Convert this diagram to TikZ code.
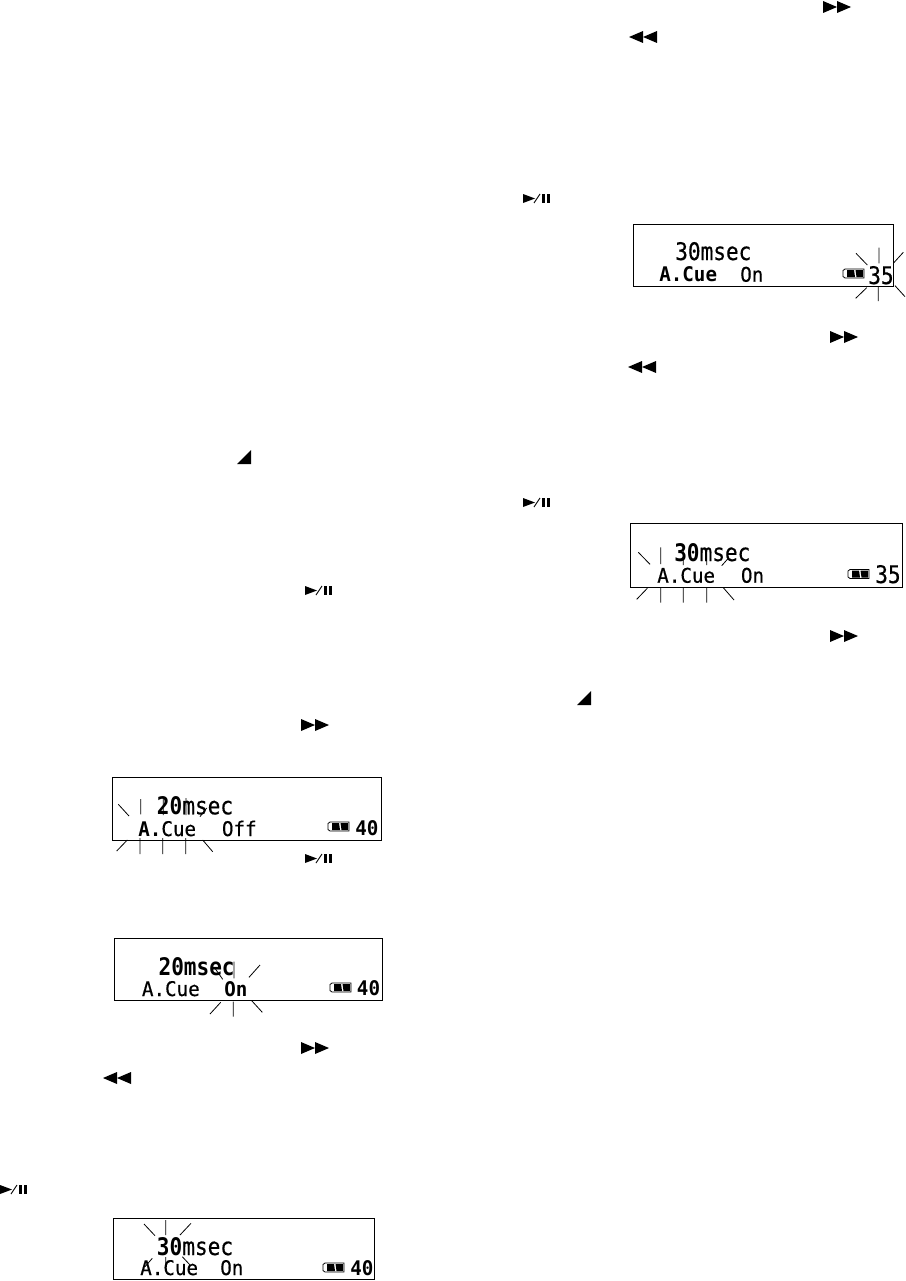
\documentclass[tikz,border=0pt]{standalone}
\usepackage{fontspec}
\setmonofont[FakeBold=0.5,BoldFeatures={FakeBold=0}]{DejaVu Sans Mono}
\usepackage{tikz}

\tikzset{
  lcd box/.style={rectangle,draw,line width=0.7pt,inner sep=0pt},
  big text/.style={anchor=base west,inner sep=0pt,font=\ttfamily\fontsize{15.8pt}{16pt}\selectfont,yscale=1.15},
  small text/.style={anchor=base west,inner sep=0pt,font=\ttfamily\fontsize{14.4pt}{15pt}\selectfont,yscale=1.05},
  ray/.style={line width=0.6pt,black},
  ffwd icon/.pic={
    \fill (0,0) -- (14,6) -- (0,12) -- cycle;
    \fill (14,0) -- (28,6) -- (14,12) -- cycle;},
  rew icon/.pic={
    \fill (14,0) -- (0,6) -- (14,12) -- cycle;
    \fill (28,0) -- (14,6) -- (28,12) -- cycle;},
  playpause icon/.pic={
    \fill (0,0) -- (12,4.5) -- (0,9) -- cycle;
    \draw[line width=0.7pt] (11,9) -- (17,0);
    \fill (19,0) rectangle (22,9);
    \fill (24,0) rectangle (27,9);},
  corner icon/.pic={
    \fill (0,14) -- (14,0) -- (14,14) -- cycle;},
  battery icon/.pic={
    \draw[line width=0.6pt] (0,1.5) -- (2,0) -- (21,0) -- (21,9) -- (2,9) -- (0,7.5) -- cycle;
    \fill (4,1) -- (11,1) -- (12,8) -- (4,8) -- cycle;
    \fill (12.5,1) -- (20,1) -- (20,8) -- (13.5,8) -- cycle;}
}

\begin{document}
\begin{tikzpicture}[x=0.75pt,y=-0.75pt]
  \useasboundingbox (0,0) rectangle (906,1281);

  % button marks, right column
  \pic at (823,1) {ffwd icon};
  \pic at (629,31) {rew icon};
  \pic at (523,194) {playpause icon};
  \pic at (830,331) {ffwd icon};
  \pic at (628,361) {rew icon};
  \pic at (523,498) {playpause icon};
  \pic at (830,630) {ffwd icon};
  \pic at (577,691) {corner icon};

  % button marks, left column
  \pic at (237,450) {corner icon};
  \pic at (305,586) {playpause icon};
  \pic at (301,719) {ffwd icon};
  \pic at (305,854) {playpause icon};
  \pic at (301,1042) {ffwd icon};
  \pic at (103,1072) {rew icon};
  \pic at (0,1185) {playpause icon};

  % displays
  \node[lcd box,minimum width=195pt,minimum height=46.5pt] (box1) at (763,255) {};
  \node[big text] (time1) at (675,260) {30msec};
  \node[small text] (cue1) at (659,281.7) {\bfseries A.Cue};
  \node[small text] (mode1) at (740,281.7) {On};
  \node[big text] (level1) at (868,284) {35};
  \pic at (843,269) {battery icon};

  \node[lcd box,minimum width=204pt,minimum height=48pt] (box2) at (766,555) {};
  \node[big text] (time2) at (674,561) {{\bfseries 30}msec};
  \node[small text] (cue2) at (657,582.7) {A.Cue};
  \node[small text] (mode2) at (740.7,582.7) {On};
  \node[big text] (level2) at (875,583) {35};
  \pic at (848,569.5) {battery icon};

  \node[lcd box,minimum width=201.75pt,minimum height=47pt] (box3) at (247.2,809) {};
  \node[big text] (time3) at (156.7,814.3) {{\bfseries 20}msec};
  \node[small text] (cue3) at (138,836) {{\bfseries A.}Cue};
  \node[small text] (mode3) at (221.7,836) {Off};
  \node[small text] (level3) at (355,835) {\bfseries 40};
  \pic at (328,822) {battery icon};

  \node[lcd box,minimum width=201.3pt,minimum height=46.8pt] (box4) at (248.5,969.5) {};
  \node[big text] (time4) at (158.3,975) {\bfseries 20msec};
  \node[small text] (cue4) at (141.7,996) {A.Cue};
  \node[small text] (mode4) at (224,996) {\bfseries On};
  \node[small text] (level4) at (356.7,995) {\bfseries 40};
  \pic at (330,983) {battery icon};

  \node[lcd box,minimum width=195.75pt,minimum height=46.3pt] (box5) at (243.8,1249) {};
  \node[big text] (time5) at (156.7,1255) {{\bfseries 30}msec};
  \node[small text] (cue5) at (140,1275) {A.Cue};
  \node[small text] (mode5) at (220,1275) {On};
  \node[small text] (level5) at (350,1275) {\bfseries 40};
  \pic at (323,1263) {battery icon};

  % blink rays
  \draw[ray] (856,253.3) -- (867.3,265) (879,247.7) -- (879,263.3) (903.3,252.3) -- (893.3,263.3)
    (866.7,287.7) -- (855.7,298.3) (878.3,286.7) -- (878.3,301) (895,285.7) -- (905,296.7);

  \draw[ray] (638.3,552.3) -- (650,564.3) (660.7,547.3) -- (660.7,564) (683.3,548.3) -- (683.3,565)
    (706.7,548) -- (706.7,565) (728.3,558.3) -- (721.7,565.7)
    (647.3,588.3) -- (636.7,599.3) (660.7,587.7) -- (660.7,602.7) (683.3,587.7) -- (683.3,602.7)
    (706.7,587.7) -- (706.7,602.7) (723.3,587.7) -- (734,600);

  \draw[ray] (118.3,804.3) -- (129,816) (140.7,799) -- (140.7,814.3) (163.3,798) -- (163.3,815)
    (186,798) -- (186,815) (206.7,808) -- (200,816.7)
    (127.3,840) -- (116.7,851) (140,838) -- (140,854) (162.7,838) -- (162.7,854)
    (185.7,838) -- (185.7,854) (202.7,840) -- (212.7,851.7);

  \draw[ray] (215,968.3) -- (222.7,979.3) (234,961.7) -- (234,978.3) (260,965) -- (249,977.3)
    (220.7,1002.3) -- (210,1014) (233.3,1001.7) -- (233.3,1016.7) (251.7,1000.7) -- (262.3,1012.3);

  \draw[ray] (144,1224) -- (155,1235.7) (165.7,1220) -- (165.7,1235) (191,1223.3) -- (180,1235)
    (152.3,1258.3) -- (145,1266.7) (165.7,1257) -- (165.7,1264) (182.3,1256.7) -- (190.7,1265.7);
\end{tikzpicture}
\end{document}
